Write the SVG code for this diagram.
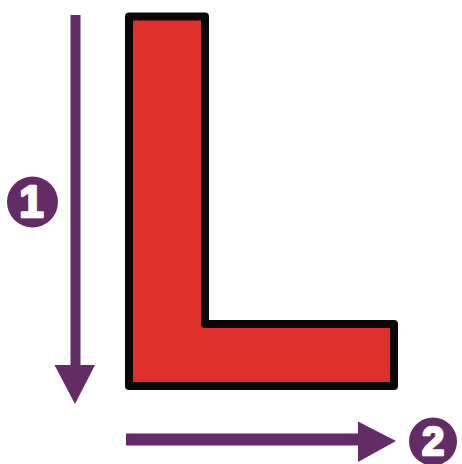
<svg xmlns="http://www.w3.org/2000/svg" width="462" height="464" viewBox="0 0 462 464">
<defs>
<style>
.arrow{stroke:#632c66;fill:none}
.head{fill:#632c66}
.badge{fill:#632c66}
.num{font-family:"Liberation Sans",Arial,sans-serif;font-weight:bold;fill:#ffffff;stroke:#ffffff;stroke-width:2.5;stroke-linejoin:round;text-anchor:middle}
</style>
</defs>
<rect width="462" height="464" fill="#ffffff"/>
<g id="L">
<path d="M129 16.5 H205 V324 H394 V386 H129 Z" fill="#dd302b" stroke="#0b0707" stroke-width="8" stroke-linejoin="round"/>
</g>
<g id="connectors">
<line class="arrow" x1="75.5" y1="15" x2="75.5" y2="368" stroke-width="10"/>
<polygon class="head" points="54.5,365 95,365 75,404"/>
<line class="arrow" x1="126" y1="439.5" x2="362" y2="439.5" stroke-width="12"/>
<polygon class="head" points="358,421.5 358,462 396,441"/>
</g>
<g id="badge1">
<circle class="badge" cx="32.5" cy="202" r="25.5"/>
<text class="num" x="31.5" y="217" font-size="44">1</text>
</g>
<g id="badge2">
<circle class="badge" cx="433" cy="441.5" r="24"/>
<text class="num" x="433" y="455" font-size="40">2</text>
</g>
</svg>
